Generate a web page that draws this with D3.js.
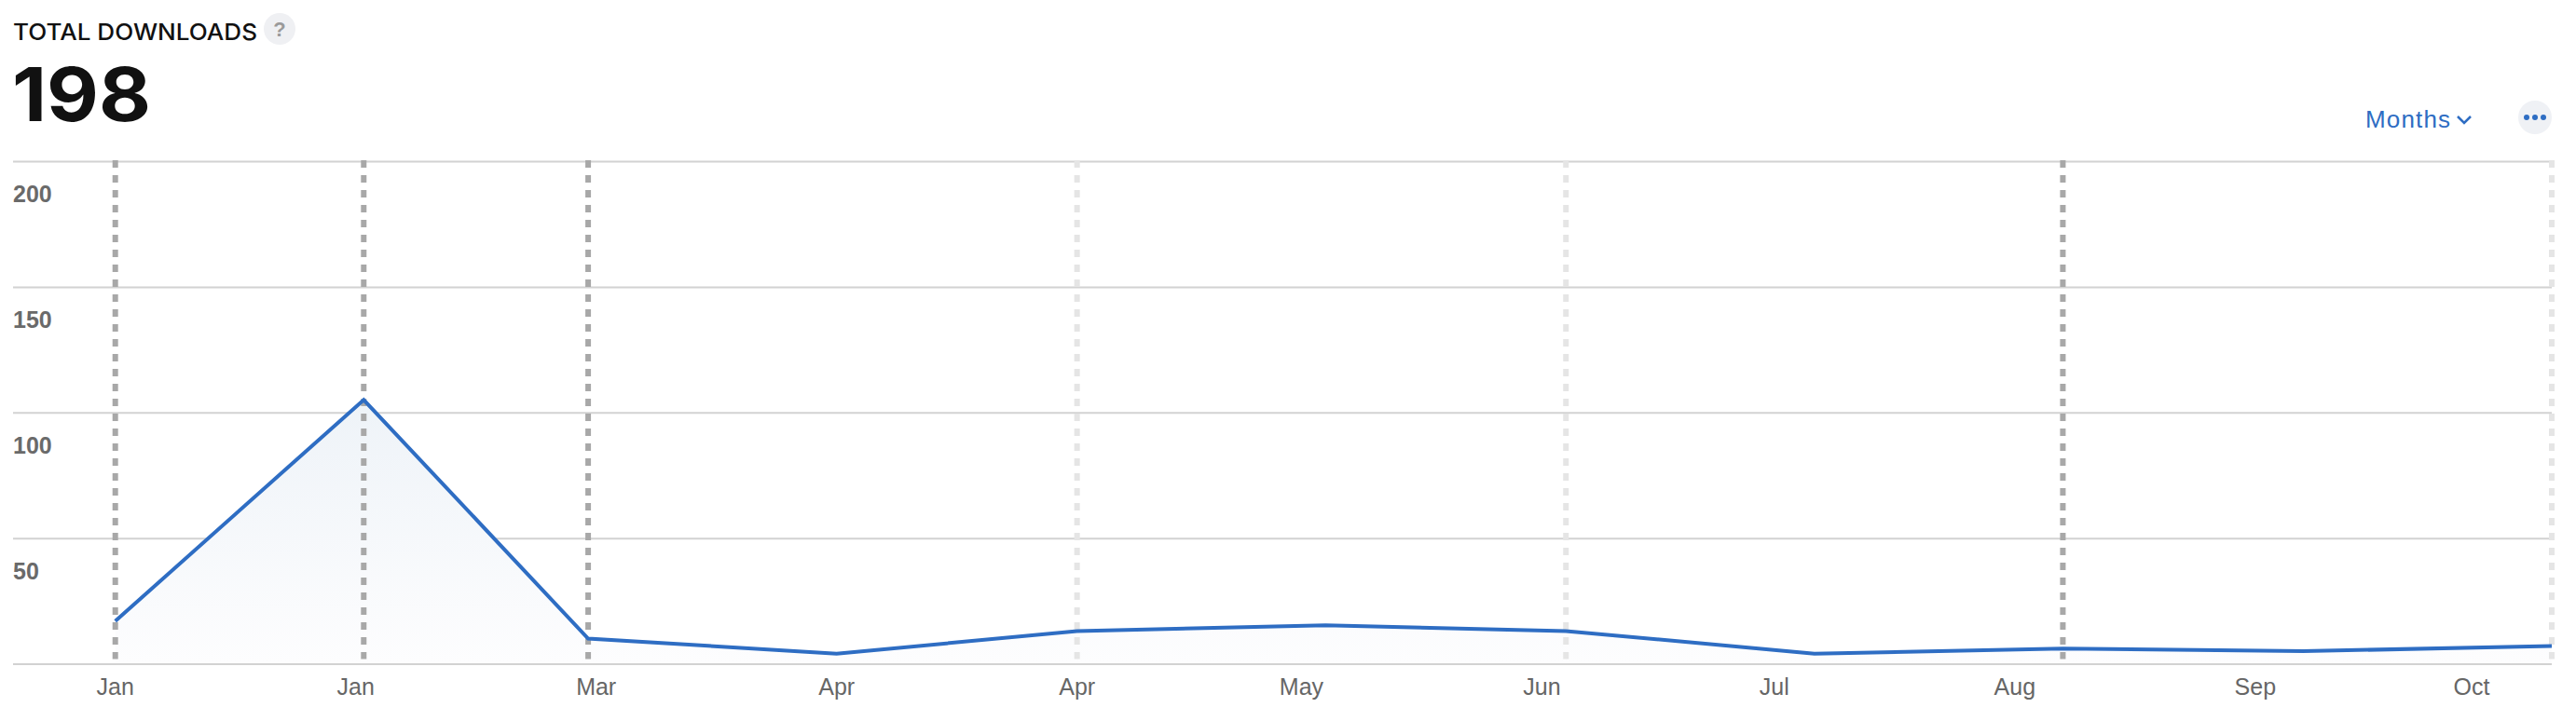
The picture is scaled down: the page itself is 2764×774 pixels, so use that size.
<!DOCTYPE html>
<html><head><meta charset="utf-8">
<script src="https://cdn.jsdelivr.net/npm/d3@7"></script>
<style>html,body{margin:0;padding:0;background:#fff}svg{display:block}text{font-family:"Liberation Sans",Arial,sans-serif}</style>
</head><body><svg id="c" width="2764" height="774"></svg>
<script>
const title = "TOTAL DOWNLOADS";
const total = "198";
const rangeLabel = "Months";
const pointDates = ["2018-01-01","2018-02-01","2018-03-01","2018-04-01","2018-05-01","2018-06-01","2018-07-01","2018-08-01","2018-09-01","2018-10-01","2018-11-01"];
const downloads = [17,105,10,4,13,15.3,13,4,6,5,7];
const yTicks = [50,100,150,200];
const tickLabels = ["Jan","Jan","Mar","Apr","Apr","May","Jun","Jul","Aug","Sep","Oct"];
const tickDates = ["2018-01-01","2018-01-31","2018-03-02","2018-04-01","2018-05-01","2018-05-29","2018-06-28","2018-07-27","2018-08-26","2018-09-25","2018-10-22"];
const strongMarkers = ["2018-01-01","2018-02-01","2018-03-01","2018-09-01"];
const faintMarkers = ["2018-05-01","2018-07-01","2018-11-01"];

const parse = d3.utcParse("%Y-%m-%d");
const svg = d3.select("#c");
const x = d3.scaleUtc().domain([parse(pointDates[0]),parse(pointDates[10])]).range([123.7,2738]);
const y = d3.scaleLinear().domain([0,200]).range([712.5,173]);
const pts = pointDates.map((d,i)=>({d:parse(d),v:downloads[i]}));

const defs = svg.append("defs");
const g = defs.append("linearGradient").attr("id","af").attr("x1",0).attr("x2",0).attr("y1",0).attr("y2",1);
g.append("stop").attr("offset",0).attr("stop-color","#eef3f8");
g.append("stop").attr("offset",1).attr("stop-color","#fdfdfe");

const yAxis = d3.axisLeft(y).tickValues([0,...yTicks]).tickSize(-(2738-14)).tickFormat("");
const ga = svg.append("g").attr("transform","translate(14,0)").call(yAxis);
ga.select(".domain").remove();
ga.selectAll("line").attr("stroke","#d2d2d2").attr("stroke-width",2);

svg.append("path").datum(pts).attr("fill","url(#af)").attr("d",d3.area().x(d=>x(d.d)).y0(y(0)-1).y1(d=>y(d.v)));

const mk=(arr,col)=>svg.append("g").selectAll("line").data(arr).join("line")
  .attr("x1",d=>x(parse(d))).attr("x2",d=>x(parse(d))).attr("y1",y(200)-1).attr("y2",y(0)-5)
  .attr("stroke",col).attr("stroke-width",6).attr("stroke-dasharray","8 8");
mk(faintMarkers,"#e5e5e5");
mk(strongMarkers,"#a8a8a8");

svg.append("path").datum(pts).attr("fill","none").attr("stroke","#2e6dc3").attr("stroke-width",4).attr("stroke-linejoin","miter")
  .attr("d",d3.line().x(d=>x(d.d)).y(d=>y(d.v)));

svg.append("g").selectAll("text").data(yTicks).join("text").text(d=>d)
  .attr("x",14).attr("y",d=>y(d)+44).attr("font-size",25).attr("font-weight",700).attr("fill","#6a6a6a");

svg.append("g").selectAll("text").data(tickLabels).join("text").text(d=>d)
  .attr("x",(d,i)=>x(parse(tickDates[i]))).attr("y",746).attr("text-anchor","middle").attr("font-size",25).attr("fill","#666");

svg.append("text").text(title).attr("x",14).attr("y",43).attr("font-size",24.5).attr("font-weight",500)
  .style("font-family","Inter").attr("fill","#111").attr("textLength",262).attr("lengthAdjust","spacingAndGlyphs");
svg.append("circle").attr("cx",300).attr("cy",31).attr("r",17).attr("fill","#eff0f3");
svg.append("text").text("?").attr("x",300).attr("y",39).attr("text-anchor","middle").attr("font-size",22).attr("font-weight",700).attr("fill","#9a9a9a");
svg.append("text").text(total).attr("x",13).attr("y",130).attr("font-size",80).attr("font-weight",700)
  .style("font-family","Inter").attr("fill","#111").attr("textLength",149).attr("lengthAdjust","spacingAndGlyphs");
svg.append("text").text(rangeLabel).attr("x",2538).attr("y",137).attr("font-size",26).attr("fill","#2e6dc3").attr("textLength",91).attr("lengthAdjust","spacing");
svg.append("path").attr("d",d3.line()([[2637,125],[2644,132],[2651,125]])).attr("fill","none").attr("stroke","#2e6dc3").attr("stroke-width",2.5);
svg.append("circle").attr("cx",2720).attr("cy",126).attr("r",18).attr("fill","#eff1f5");
svg.append("g").selectAll("circle").data([-9,0,9]).join("circle").attr("cx",d=>2720+d).attr("cy",126).attr("r",3).attr("fill","#2e6dc3");
</script></body></html>
